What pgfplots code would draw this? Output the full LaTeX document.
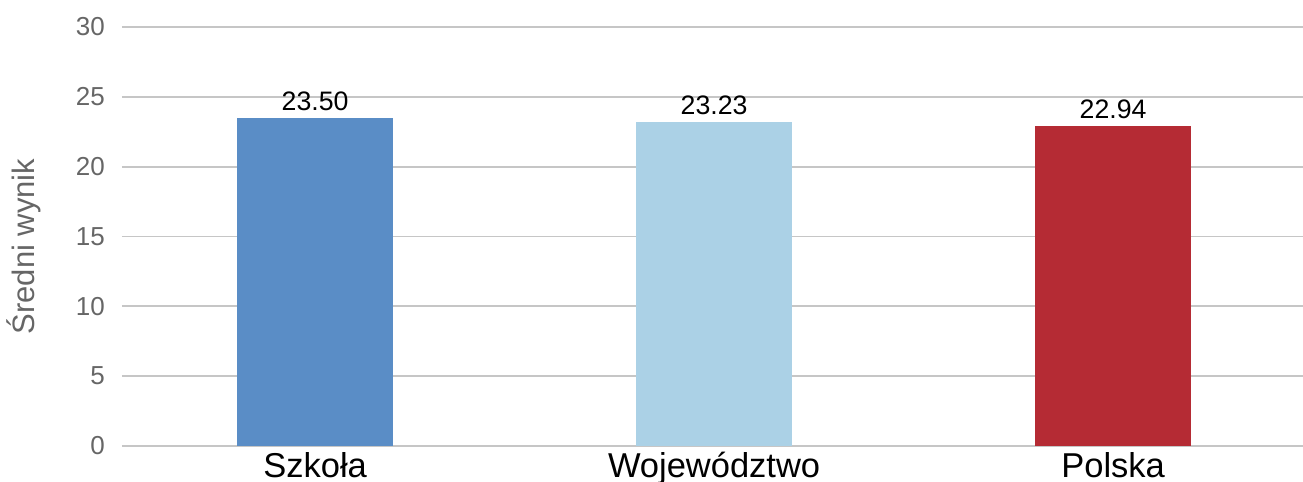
\documentclass[border=0pt]{standalone}
\usepackage{pgfplots}
\pgfplotsset{compat=1.18}
\usepackage{fontspec}
\setmainfont{Liberation Sans}
\definecolor{c1}{HTML}{5A8DC6}
\definecolor{c2}{HTML}{ABD1E6}
\definecolor{c3}{HTML}{B52B34}
\definecolor{gridc}{HTML}{C6C6C6}
\definecolor{tickc}{HTML}{666666}
\begin{document}
\begin{tikzpicture}
\begin{axis}[
  scale only axis, width=1181pt, height=419pt,
  xmin=-0.484, xmax=2.476, ymin=0, ymax=30,
  ytick={0,5,10,15,20,25,30},
  xtick={0,1,2}, xticklabels={Szkoła,Województwo,Polska},
  axis line style={draw=none},
  major tick length=0pt,
  ymajorgrids, grid style={gridc, line width=1.8pt},
  ybar, bar width=156pt,
  /pgf/number format/assume math mode=true,
  yticklabel style={font=\fontsize{26}{30}\selectfont, text=tickc, inner sep=0pt, xshift=-17pt},
  xticklabel style={font=\fontsize{34.5}{40}\selectfont, text=black, inner sep=0pt, anchor=north, text height=25pt, text depth=8pt, yshift=-6pt},
  nodes near coords,
  nodes near coords style={font=\fontsize{26.7}{31}\selectfont, text=black, anchor=south, inner sep=0pt, yshift=7pt,
    /pgf/number format/.cd, fixed, fixed zerofill, precision=2, assume math mode=true},
]
\addplot[fill=c1, draw=none, bar shift=0pt] coordinates {(0,23.50)};
\addplot[fill=c2, draw=none, bar shift=0pt] coordinates {(1,23.23)};
\addplot[fill=c3, draw=none, bar shift=0pt] coordinates {(2,22.94)};
\end{axis}
\node[rotate=90, text=tickc, font=\fontsize{31}{36}\selectfont, anchor=center, inner sep=0pt] at ([xshift=-98pt, yshift=-10pt]current axis.west) {Średni wynik};
\pgfresetboundingbox
\path ([xshift=-122pt,yshift=-36pt]current axis.south west) rectangle ([yshift=27pt]current axis.north east);
\end{tikzpicture}
\end{document}
